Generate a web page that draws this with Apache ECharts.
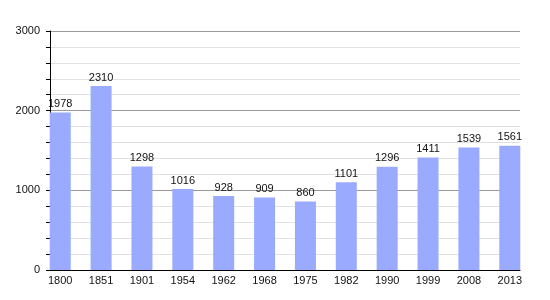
<!DOCTYPE html>
<html><head><meta charset="utf-8">
<script src="https://cdn.jsdelivr.net/npm/echarts@6/dist/echarts.min.js"></script>
<style>html,body{margin:0;padding:0;background:#fff}#c{width:550px;height:300px}</style>
</head><body><div id="c"></div>
<script>
var years = ['1800','1851','1901','1954','1962','1968','1975','1982','1990','1999','2008','2013'];
var population = [1978, 2310, 1298, 1016, 928, 909, 860, 1101, 1296, 1411, 1539, 1561];
var yTicks = [0, 1000, 2000, 3000];

var chart = echarts.init(document.getElementById('c'));
chart.setOption({
  animation: false,
  grid: {left: 50, right: 30, top: 31, bottom: 30},
  xAxis: {
    type: 'value', min: -0.25, max: 11.25, interval: 1,
    axisLine: {show: true, onZero: false, lineStyle: {color: '#000', width: 1}},
    axisTick: {show: false},
    splitLine: {show: false},
    axisLabel: {
      color: '#111', fontSize: 11, fontFamily: 'Liberation Sans', margin: 5,
      showMinLabel: true, showMaxLabel: true, hideOverlap: false,
      customValues: years.map(function(_, i){ return i; }),
      formatter: function(v){ return years[Math.round(v)] || ''; }
    }
  },
  yAxis: {
    type: 'value', min: 0, max: 3000, interval: 200,
    axisLine: {show: true, onZero: false, lineStyle: {color: '#000', width: 1}},
    axisTick: {show: true, length: 4, lineStyle: {color: '#000'}},
    axisLabel: {
      color: '#111', fontSize: 11, fontFamily: 'Liberation Sans', margin: 10,
      formatter: function(v){ return yTicks.indexOf(v) >= 0 ? String(v) : ''; }
    },
    splitLine: {show: true, lineStyle: {color: ['#999', '#e2e2e2', '#e2e2e2', '#e2e2e2', '#e2e2e2'], width: 1}}
  },
  series: [{
    type: 'bar',
    barWidth: 21,
    data: population.map(function(v, i){ return [i, v]; }),
    itemStyle: {color: '#99aaff'},
    label: {show: true, position: 'top', distance: 3, color: '#111', fontSize: 11, fontFamily: 'Liberation Sans',
      formatter: function(p){ return String(p.value[1]); }}
  }]
});
</script></body></html>
